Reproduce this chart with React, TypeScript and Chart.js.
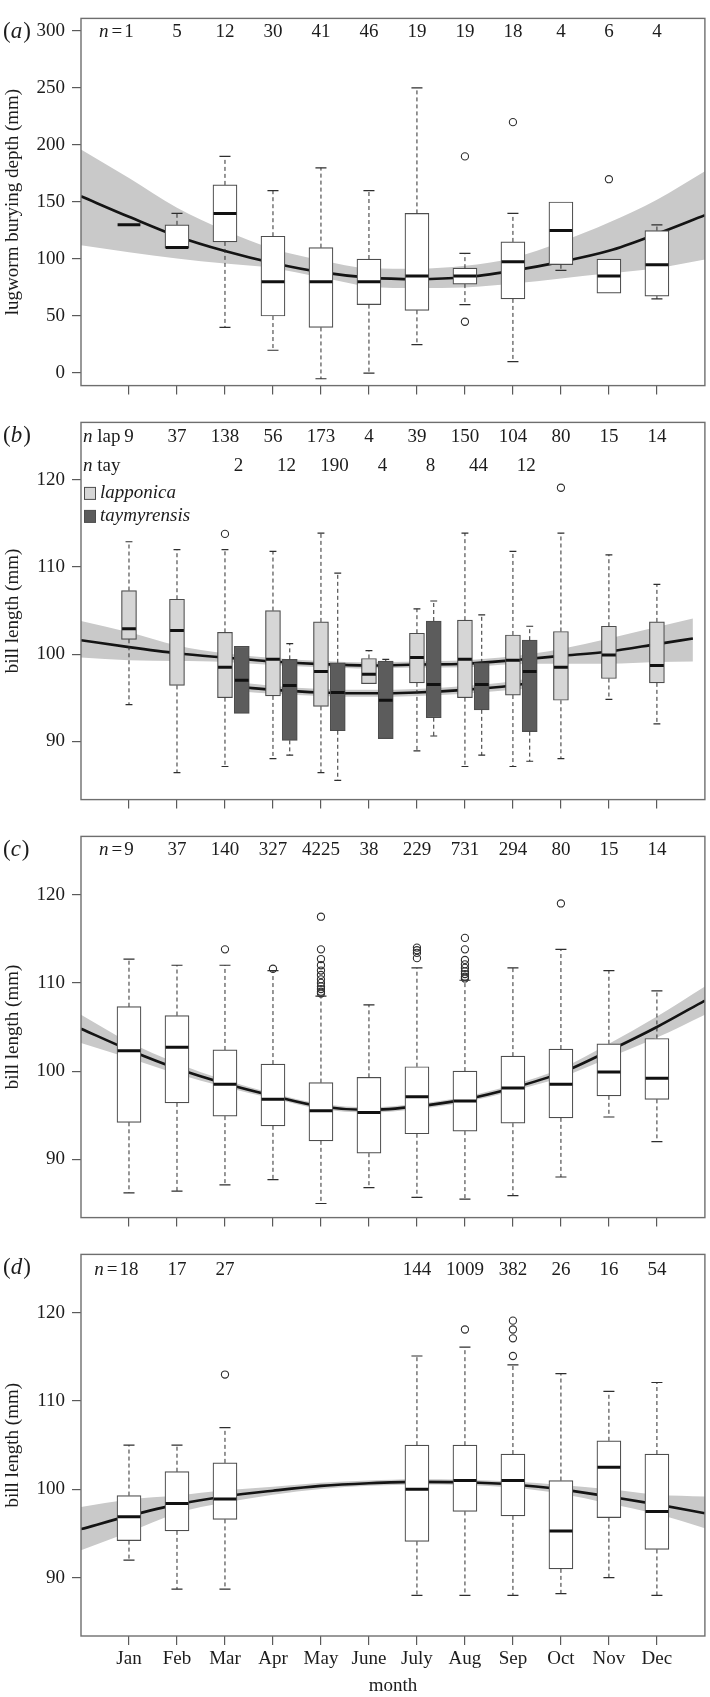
import React, { useEffect, useRef } from 'react';
import { Chart, registerables } from 'chart.js';

Chart.register(...registerables);

const SERIF = '"Liberation Serif", "Times New Roman", Times, serif';
const FS = 19;
const INK = '#1c1c1c';
const AXIS_GREY = '#5a5a5a';
const FRAME_GREY = '#6e6e6e';
const BAND_GREY = '#c9c9c9';
const BOX_EDGE = '#4d4d4d';
const WHITE_FILL = '#ffffff';
const LAP_FILL = '#d6d6d6';
const TAY_FILL = '#5c5c5c';
const TAY_SHIFT = 0.35;
const TAY_LABEL_SHIFT = 0.28;

// ---------- shared axes ----------
const MONTHS = [1, 2, 3, 4, 5, 6, 7, 8, 9, 10, 11, 12];
const MONTH_LABELS = ['Jan', 'Feb', 'Mar', 'Apr', 'May', 'June', 'July', 'Aug', 'Sep', 'Oct', 'Nov', 'Dec'];
const FIT_X = [0, 1, 2, 3, 4, 5, 6, 7, 8, 9, 10, 11, 12, 13];
const A_Y_TICKS = [0, 50, 100, 150, 200, 250, 300];
const BILL_Y_TICKS = [90, 100, 110, 120];

// ---------- panel (a): lugworm burying depth ----------
const A_N = ['1', '5', '12', '30', '41', '46', '19', '19', '18', '4', '6', '4'];
const A_Q1 = [130, 110, 115, 50, 40, 60, 55, 78, 65, 95, 70, 67.5];
const A_MED = [130, 110, 140, 80, 80, 80, 85, 85, 97.5, 125, 85, 95];
const A_Q3 = [130, 130, 165, 120, 110, 100, 140, 92, 115, 150, 100, 125];
const A_WLO = [130, 110, 40, 20, -5, 0, 25, 60, 10, 90, 70, 65];
const A_WHI = [130, 140, 190, 160, 180, 160, 250, 105, 140, 150, 100, 130];
const A_OUTLIERS: [number, number][] = [[8, 190], [8, 45], [9, 220], [11, 170]];
const A_FIT = [155, 137, 120, 107, 96.5, 88.5, 83.7, 82.4, 84, 89.8, 97.5, 107.2, 122, 138.4];
const A_BAND_UP = [196, 171, 145, 125, 109, 99, 92, 91.5, 94, 101, 115, 132, 152, 177];
const A_BAND_LO = [112, 106, 100.5, 96, 92, 84, 76, 74.5, 75, 78.5, 83, 87.5, 92, 99.5];

// ---------- panel (b): lapponica / taymyrensis ----------
const B_LAP_N = ['9', '37', '138', '56', '173', '4', '39', '150', '104', '80', '15', '14'];
const B_LAP_Q1 = [101.7, 96.4, 95.0, 95.2, 94.0, 96.6, 96.7, 95.0, 95.3, 94.7, 97.2, 96.7];
const B_LAP_MED = [102.9, 102.7, 98.5, 99.4, 98.0, 97.7, 99.6, 99.4, 99.3, 98.5, 99.9, 98.7];
const B_LAP_Q3 = [107.3, 106.3, 102.5, 105.0, 103.7, 99.5, 102.4, 103.9, 102.2, 102.6, 103.2, 103.7];
const B_LAP_WLO = [94.2, 86.4, 87.1, 88.0, 86.4, 96.6, 88.9, 87.1, 87.1, 88.0, 94.8, 92.0];
const B_LAP_WHI = [112.9, 112.0, 112.0, 111.8, 113.9, 100.4, 105.2, 113.9, 111.8, 113.9, 111.4, 108.0];
const B_TAY_MONTHS = [3, 4, 5, 6, 7, 8, 9];
const B_TAY_N = ['2', '12', '190', '4', '8', '44', '12'];
const B_TAY_Q1 = [93.2, 90.1, 91.2, 90.3, 92.7, 93.6, 91.1];
const B_TAY_MED = [97.0, 96.4, 95.6, 94.7, 96.5, 96.5, 98.0];
const B_TAY_Q3 = [100.9, 99.4, 99.0, 99.2, 103.8, 99.0, 101.6];
const B_TAY_WLO = [93.2, 88.4, 85.5, 90.3, 90.6, 88.4, 87.7];
const B_TAY_WHI = [100.9, 101.2, 109.3, 99.4, 106.1, 104.5, 103.2];
const B_OUTLIERS: [number, number][] = [[3, 113.8], [10, 119.1]];
const B_LAP_FIT_X = [0, 1, 2, 3, 4, 5, 6, 7, 8, 9, 10, 11, 12, 12.75];
const B_LAP_FIT = [101.6, 100.8, 100.1, 99.6, 99.15, 98.85, 98.7, 98.8, 98.9, 99.3, 99.8, 100.3, 101.15, 101.8];
const B_LAP_BAND_UP = [103.8, 102.5, 101.0, 100.1, 99.55, 99.2, 99.05, 99.15, 99.3, 99.75, 100.6, 101.8, 103.1, 104.1];
const B_LAP_BAND_LO = [99.6, 99.3, 99.2, 99.1, 98.75, 98.5, 98.35, 98.45, 98.5, 98.85, 98.9, 98.9, 99.1, 99.15];
const B_TAY_FIT_X = [3.35, 4, 5, 6, 7, 8, 9, 9.4];
const B_TAY_FIT = [96.2, 95.9, 95.6, 95.5, 95.6, 95.9, 96.4, 96.7];
const B_TAY_BAND_UP = [96.7, 96.35, 96.0, 95.9, 96.0, 96.35, 96.9, 97.3];
const B_TAY_BAND_LO = [95.7, 95.45, 95.2, 95.1, 95.2, 95.45, 95.9, 96.1];

// ---------- panel (c) ----------
const C_N = ['9', '37', '140', '327', '4225', '38', '229', '731', '294', '80', '15', '14'];
const C_Q1 = [94.2, 96.4, 94.9, 93.8, 92.1, 90.7, 92.9, 93.2, 94.1, 94.7, 97.2, 96.8];
const C_MED = [102.3, 102.7, 98.5, 96.8, 95.5, 95.3, 97.1, 96.6, 98.1, 98.5, 99.9, 99.2];
const C_Q3 = [107.3, 106.3, 102.4, 100.8, 98.7, 99.3, 100.5, 100.0, 101.7, 102.5, 103.1, 103.7];
const C_WLO = [86.2, 86.4, 87.1, 87.7, 85.0, 86.8, 85.7, 85.5, 85.9, 88.0, 94.8, 92.0];
const C_WHI = [112.7, 112.0, 112.0, 111.4, 108.5, 107.5, 111.7, 110.3, 111.7, 113.8, 111.4, 109.1];
const C_OUTLIERS: [number, number][] = [
  [3, 113.8], [4, 111.6],
  [5, 117.5], [5, 113.8], [5, 112.7], [5, 112.0], [5, 111.4], [5, 110.9], [5, 110.4], [5, 110.0], [5, 109.6], [5, 109.3], [5, 109.0], [5, 108.8],
  [7, 114.0], [7, 113.7], [7, 113.4], [7, 112.8],
  [8, 115.1], [8, 113.8], [8, 112.6], [8, 112.1], [8, 111.7], [8, 111.3], [8, 111.0], [8, 110.7], [8, 110.5],
  [10, 119.0],
];
const C_FIT = [104.8, 102.4, 100.3, 98.6, 97.2, 96.0, 95.6, 96.0, 96.8, 98.1, 99.8, 102.3, 105.0, 108.0];
const C_BAND_UP = [106.4, 103.3, 100.9, 99.0, 97.5, 96.3, 95.9, 96.3, 97.1, 98.45, 100.3, 103.1, 106.2, 109.6];
const C_BAND_LO = [103.2, 101.5, 99.7, 98.2, 96.9, 95.7, 95.3, 95.7, 96.5, 97.75, 99.3, 101.5, 103.8, 106.4];

// ---------- panel (d) ----------
const D_MONTHS = [1, 2, 3, 7, 8, 9, 10, 11, 12];
const D_N = ['18', '17', '27', '144', '1009', '382', '26', '16', '54'];
const D_Q1 = [94.2, 95.3, 96.6, 94.1, 97.5, 97.0, 91.0, 96.8, 93.2];
const D_MED = [96.9, 98.4, 98.9, 100.0, 101.0, 101.0, 95.3, 102.5, 97.5];
const D_Q3 = [99.3, 102.0, 103.0, 105.0, 105.0, 104.0, 101.0, 105.5, 104.0];
const D_WLO = [92.0, 88.7, 88.7, 88.0, 88.0, 88.0, 88.2, 90.0, 88.0];
const D_WHI = [105.0, 105.0, 107.0, 115.1, 116.1, 114.1, 113.1, 111.1, 112.1];
const D_OUTLIERS: [number, number][] = [[3, 113.0], [8, 118.1], [9, 119.1], [9, 118.1], [9, 117.1], [9, 115.1]];
const D_FIT = [95.5, 97.0, 98.3, 99.2, 99.85, 100.4, 100.7, 100.85, 100.8, 100.55, 100.0, 99.2, 98.3, 97.3];
const D_BAND_UP = [98.0, 98.85, 99.3, 99.9, 100.3, 100.75, 101.0, 101.15, 101.1, 100.9, 100.5, 100.0, 99.4, 99.2];
const D_BAND_LO = [93.1, 95.15, 97.3, 98.5, 99.4, 100.05, 100.4, 100.55, 100.5, 100.2, 99.5, 98.4, 97.2, 95.6];

type Group = { x: number[]; q1: number[]; med: number[]; q3: number[]; lo: number[]; hi: number[]; width: number; fill: string };
type Fit = { x: number[]; y: number[]; up: number[]; lo: number[] };
type NRow = { x: number[]; t: string[]; dy: number; prefix: 'eq' | 'lap' | 'tay' };
type Panel = {
  letter: string; top: number; height: number; areaTop: number; areaBottom: number;
  yMin: number; yMax: number; yTicks: number[]; yTitle: string; showMonths: boolean;
  groups: Group[]; outliers: [number, number][]; fits: Fit[]; nRows: NRow[]; legend: boolean;
};

const PANELS: Panel[] = [
  {
    letter: 'a', top: 0, height: 404, areaTop: 2, areaBottom: 391,
    yMin: -11, yMax: 311, yTicks: A_Y_TICKS, yTitle: 'lugworm burying depth (mm)', showMonths: false,
    groups: [{ x: MONTHS, q1: A_Q1, med: A_MED, q3: A_Q3, lo: A_WLO, hi: A_WHI, width: 24, fill: WHITE_FILL }],
    outliers: A_OUTLIERS,
    fits: [{ x: FIT_X, y: A_FIT, up: A_BAND_UP, lo: A_BAND_LO }],
    nRows: [{ x: MONTHS, t: A_N, dy: 14, prefix: 'eq' }],
    legend: false,
  },
  {
    letter: 'b', top: 404, height: 414, areaTop: 412, areaBottom: 804,
    yMin: 83.3, yMax: 126.6, yTicks: BILL_Y_TICKS, yTitle: 'bill length (mm)', showMonths: false,
    groups: [
      { x: MONTHS, q1: B_LAP_Q1, med: B_LAP_MED, q3: B_LAP_Q3, lo: B_LAP_WLO, hi: B_LAP_WHI, width: 15, fill: LAP_FILL },
      { x: B_TAY_MONTHS.map((m) => m + TAY_SHIFT), q1: B_TAY_Q1, med: B_TAY_MED, q3: B_TAY_Q3, lo: B_TAY_WLO, hi: B_TAY_WHI, width: 15, fill: TAY_FILL },
    ],
    outliers: B_OUTLIERS,
    fits: [
      { x: B_LAP_FIT_X, y: B_LAP_FIT, up: B_LAP_BAND_UP, lo: B_LAP_BAND_LO },
      { x: B_TAY_FIT_X, y: B_TAY_FIT, up: B_TAY_BAND_UP, lo: B_TAY_BAND_LO },
    ],
    nRows: [
      { x: MONTHS, t: B_LAP_N, dy: 14.7, prefix: 'lap' },
      { x: B_TAY_MONTHS.map((m) => m + TAY_LABEL_SHIFT), t: B_TAY_N, dy: 44, prefix: 'tay' },
    ],
    legend: true,
  },
  {
    letter: 'c', top: 818, height: 418, areaTop: 830, areaBottom: 1222,
    yMin: 83.4, yMax: 126.6, yTicks: BILL_Y_TICKS, yTitle: 'bill length (mm)', showMonths: false,
    groups: [{ x: MONTHS, q1: C_Q1, med: C_MED, q3: C_Q3, lo: C_WLO, hi: C_WHI, width: 24, fill: WHITE_FILL }],
    outliers: C_OUTLIERS,
    fits: [{ x: FIT_X, y: C_FIT, up: C_BAND_UP, lo: C_BAND_LO }],
    nRows: [{ x: MONTHS, t: C_N, dy: 14, prefix: 'eq' }],
    legend: false,
  },
  {
    letter: 'd', top: 1236, height: 461, areaTop: 1245, areaBottom: 1636,
    yMin: 83.4, yMax: 126.6, yTicks: BILL_Y_TICKS, yTitle: 'bill length (mm)', showMonths: true,
    groups: [{ x: D_MONTHS, q1: D_Q1, med: D_MED, q3: D_Q3, lo: D_WLO, hi: D_WHI, width: 24, fill: WHITE_FILL }],
    outliers: D_OUTLIERS,
    fits: [{ x: FIT_X, y: D_FIT, up: D_BAND_UP, lo: D_BAND_LO }],
    nRows: [{ x: D_MONTHS, t: D_N, dy: 15.5, prefix: 'eq' }],
    legend: false,
  },
];

const fontN = `${FS}px ${SERIF}`;
const fontI = `italic ${FS}px ${SERIF}`;

function makePlugin(p: Panel) {
  return {
    id: 'panelDecor' + p.letter,
    afterDatasetsDraw(chart: any) {
      const { ctx, chartArea: ca } = chart;
      const xs = chart.scales.x;
      const ys = chart.scales.y;
      ctx.save();
      ctx.beginPath();
      ctx.rect(ca.left, ca.top, ca.right - ca.left, ca.bottom - ca.top);
      ctx.clip();
      for (const g of p.groups) {
        g.x.forEach((m, i) => {
          const cx = xs.getPixelForValue(m);
          const yq1 = ys.getPixelForValue(g.q1[i]);
          const yq3 = ys.getPixelForValue(g.q3[i]);
          const ylo = ys.getPixelForValue(g.lo[i]);
          const yhi = ys.getPixelForValue(g.hi[i]);
          const ymed = ys.getPixelForValue(g.med[i]);
          const cap = g.width * 0.46;
          ctx.strokeStyle = '#2e2e2e';
          ctx.lineWidth = 1;
          ctx.setLineDash([4, 3]);
          ctx.beginPath();
          if (g.hi[i] > g.q3[i]) { ctx.moveTo(cx, yq3); ctx.lineTo(cx, yhi); }
          if (g.lo[i] < g.q1[i]) { ctx.moveTo(cx, yq1); ctx.lineTo(cx, ylo); }
          ctx.stroke();
          ctx.setLineDash([]);
          ctx.lineWidth = 1.2;
          ctx.beginPath();
          if (g.hi[i] > g.q3[i]) { ctx.moveTo(cx - cap / 2, yhi); ctx.lineTo(cx + cap / 2, yhi); }
          if (g.lo[i] < g.q1[i]) { ctx.moveTo(cx - cap / 2, ylo); ctx.lineTo(cx + cap / 2, ylo); }
          ctx.stroke();
          ctx.strokeStyle = '#111';
          ctx.lineWidth = 3;
          ctx.beginPath();
          ctx.moveTo(cx - g.width / 2 + 0.6, ymed);
          ctx.lineTo(cx + g.width / 2 - 0.6, ymed);
          ctx.stroke();
        });
      }
      ctx.restore();
      ctx.save();
      ctx.strokeStyle = FRAME_GREY;
      ctx.lineWidth = 1.4;
      ctx.strokeRect(ca.left, ca.top, ca.right - ca.left, ca.bottom - ca.top);
      ctx.restore();
    },
    afterDraw(chart: any) {
      const { ctx, chartArea: ca } = chart;
      const xs = chart.scales.x;
      ctx.save();
      ctx.fillStyle = INK;
      ctx.textBaseline = 'middle';
      // panel letter
      const ly = ca.top + 14;
      const big = 23;
      ctx.textAlign = 'left';
      ctx.font = `${big}px ${SERIF}`;
      let lx = 3;
      ctx.fillText('(', lx, ly);
      lx += ctx.measureText('(').width;
      ctx.font = `italic ${big}px ${SERIF}`;
      ctx.fillText(p.letter, lx, ly);
      lx += ctx.measureText(p.letter).width + 1;
      ctx.font = `${big}px ${SERIF}`;
      ctx.fillText(')', lx, ly);

      // sample sizes
      for (const row of p.nRows) {
        const yy = ca.top + row.dy;
        row.x.forEach((m, i) => {
          const px = xs.getPixelForValue(m);
          ctx.font = fontN;
          ctx.textAlign = 'center';
          ctx.fillText(row.t[i], px, yy);
          if (i === 0 && row.prefix === 'eq') {
            const w = ctx.measureText(row.t[i]).width;
            let right = px - w / 2 - 2;
            ctx.textAlign = 'right';
            ctx.fillText('=', right, yy);
            right -= ctx.measureText('=').width + 3;
            ctx.font = fontI;
            ctx.fillText('n', right, yy);
          }
        });
        if (row.prefix !== 'eq') {
          ctx.textAlign = 'left';
          let x0 = ca.left + 2;
          ctx.font = fontI;
          ctx.fillText('n', x0, yy);
          x0 += ctx.measureText('n').width;
          ctx.font = fontN;
          ctx.fillText(row.prefix === 'lap' ? ' lap' : ' tay', x0, yy);
        }
      }

      // legend
      if (p.legend) {
        const items: [string, string][] = [['lapponica', LAP_FILL], ['taymyrensis', TAY_FILL]];
        items.forEach(([label, fill], k) => {
          const cy = ca.top + 71 + k * 23;
          ctx.fillStyle = fill;
          ctx.fillRect(ca.left + 3.5, cy - 6, 11, 12);
          ctx.strokeStyle = BOX_EDGE;
          ctx.lineWidth = 1;
          ctx.strokeRect(ca.left + 3.5, cy - 6, 11, 12);
          ctx.fillStyle = INK;
          ctx.font = fontI;
          ctx.textAlign = 'left';
          ctx.fillText(label, ca.left + 19, cy);
        });
      }
      ctx.restore();
    },
  };
}

function buildConfig(p: Panel): any {
  const datasets: any[] = [];
  p.fits.forEach((f) => {
    datasets.push({
      type: 'line',
      data: f.x.map((xv, i) => ({ x: xv, y: f.up[i] })),
      borderColor: 'rgba(0,0,0,0)', borderWidth: 0, pointRadius: 0, fill: false,
      cubicInterpolationMode: 'monotone', order: 3,
    });
    datasets.push({
      type: 'line',
      data: f.x.map((xv, i) => ({ x: xv, y: f.lo[i] })),
      borderColor: 'rgba(0,0,0,0)', borderWidth: 0, pointRadius: 0, fill: '-1',
      backgroundColor: BAND_GREY, cubicInterpolationMode: 'monotone', order: 3,
    });
    datasets.push({
      type: 'line',
      data: f.x.map((xv, i) => ({ x: xv, y: f.y[i] })),
      borderColor: '#141414', borderWidth: 2.6, pointRadius: 0, fill: false,
      cubicInterpolationMode: 'monotone', order: 2,
    });
  });
  p.groups.forEach((g) => {
    datasets.push({
      type: 'bar',
      data: g.x.map((m, i) => ({ x: m, y: [g.q1[i], g.q3[i]] })),
      backgroundColor: g.fill, borderColor: BOX_EDGE, borderWidth: 1.2, borderSkipped: false,
      barThickness: g.width, maxBarThickness: g.width, grouped: false, order: 1,
    });
  });
  if (p.outliers.length) {
    datasets.push({
      type: 'line', showLine: false,
      data: p.outliers.map(([m, v]) => ({ x: m, y: v })),
      pointRadius: 3.6, pointBorderWidth: 1.1, pointBorderColor: '#2e2e2e',
      pointBackgroundColor: 'rgba(0,0,0,0)', pointStyle: 'circle', order: 0,
    });
  }
  const font = { family: SERIF, size: FS };
  const xAxisHeight = p.height - (p.areaBottom - p.top);
  return {
    type: 'bar',
    data: { datasets },
    options: {
      responsive: false,
      maintainAspectRatio: false,
      animation: false,
      events: [],
      layout: { padding: { top: p.areaTop - p.top, right: 1, left: 0, bottom: 0 } },
      plugins: { legend: { display: false }, tooltip: { enabled: false } },
      scales: {
        x: {
          type: 'linear', min: 0, max: 13, offset: false,
          afterBuildTicks: (s: any) => { s.ticks = MONTHS.map((v) => ({ value: v })); },
          afterFit: (s: any) => { s.height = xAxisHeight; },
          grid: { offset: false, drawOnChartArea: false, drawTicks: true, tickLength: 9, color: AXIS_GREY, lineWidth: 1.2 },
          border: { display: false },
          ticks: {
            autoSkip: false, maxRotation: 0, padding: 3, color: INK, font,
            callback: (v: any) => (p.showMonths ? MONTH_LABELS[Number(v) - 1] : ''),
          },
          title: { display: p.showMonths, text: 'month', color: INK, font, padding: { top: 0, bottom: 0 } },
        },
        y: {
          type: 'linear', min: p.yMin, max: p.yMax,
          afterBuildTicks: (s: any) => { s.ticks = p.yTicks.map((v) => ({ value: v })); },
          afterFit: (s: any) => { s.width = 81; },
          grid: { drawOnChartArea: false, drawTicks: true, tickLength: 9, color: AXIS_GREY, lineWidth: 1.2 },
          border: { display: false },
          ticks: { padding: 7, color: INK, font },
          title: { display: true, text: p.yTitle, color: INK, font, padding: { top: 2, bottom: 0 } },
        },
      },
    },
    plugins: [makePlugin(p)],
  };
}

function PanelChart({ p }: { p: Panel }) {
  const ref = useRef<HTMLCanvasElement | null>(null);
  useEffect(() => {
    if (!ref.current) return;
    const chart = new Chart(ref.current, buildConfig(p));
    return () => chart.destroy();
  }, [p]);
  return (
    <canvas
      ref={ref}
      width={710}
      height={p.height}
      style={{ position: 'absolute', left: 0, top: p.top, width: 710, height: p.height, display: 'block' }}
    />
  );
}

export default function App() {
  return (
    <div style={{ position: 'absolute', left: 0, top: 0, width: 710, height: 1697, background: '#ffffff', overflow: 'hidden' }}>
      {PANELS.map((p) => (
        <PanelChart key={p.letter} p={p} />
      ))}
    </div>
  );
}
